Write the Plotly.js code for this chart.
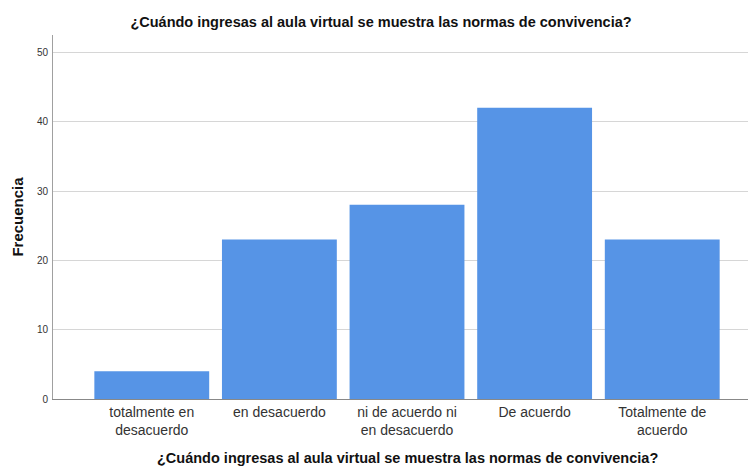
<!DOCTYPE html>
<html>
<head>
<meta charset="utf-8">
<script src="https://cdn.plot.ly/plotly-3.0.1.min.js"></script>
<style>html,body{margin:0;padding:0;background:#fff;}#chart{width:748px;height:468px;}</style>
</head>
<body>
<div id="chart"></div>
<script>
const categories = ["totalmente en<br>desacuerdo", "en desacuerdo", "ni de acuerdo ni<br>en desacuerdo", "De acuerdo", "Totalmente de<br>acuerdo"];
const frecuencia = [4, 23, 28, 42, 23];
const yTicks = [0, 10, 20, 30, 40, 50];
const chartTitle = "¿Cuándo ingresas al aula virtual se muestra las normas de convivencia?";
const yTitle = "Frecuencia";

const font = "Liberation Sans, Arial, sans-serif";

Plotly.newPlot("chart", [{
  type: "bar",
  x: [0, 1, 2, 3, 4],
  y: frecuencia,
  marker: {color: "#5694e6", line: {width: 0}},
  hoverinfo: "none"
}], {
  width: 748, height: 468,
  margin: {l: 53, r: 0, t: 35, b: 69},
  paper_bgcolor: "#fff", plot_bgcolor: "#fff",
  bargap: 0.1,
  showlegend: false,
  font: {family: font, color: "#222"},
  title: {text: chartTitle, font: {family: font, size: 14.5, color: "#111", weight: "bold"},
          x: 381/748, xanchor: "center", xref: "container", y: 1 - 22/468, yref: "container", yanchor: "middle"},
  annotations: [{
    text: chartTitle, showarrow: false,
    xref: "paper", yref: "paper", x: (407 - 53) / 695, y: (399 - 458) / 364,
    xanchor: "center", yanchor: "middle",
    font: {family: font, size: 14.5, color: "#111", weight: "bold"}
  }],
  xaxis: {
    range: [-0.774, 4.672],
    tickmode: "array", tickvals: [0, 1, 2, 3, 4], ticktext: categories,
    tickfont: {family: font, size: 14, color: "#333"},
    showgrid: false, zeroline: false,
    showline: true, linecolor: "#888", linewidth: 1,
    ticks: "", automargin: false
  },
  yaxis: {
    range: [0, 52.5],
    tickmode: "array", tickvals: yTicks,
    tickfont: {family: font, size: 10, color: "#333"},
    showgrid: true, gridcolor: "#d6d6d6", gridwidth: 1,
    zeroline: false,
    showline: true, linecolor: "#a0a0a0", linewidth: 1,
    ticks: "", ticklabelstandoff: 2, automargin: false,
    title: {text: yTitle, font: {family: font, size: 15, color: "#111", weight: "bold"}, standoff: 9}
  }
}, {displayModeBar: false, staticPlot: true});
</script>
</body>
</html>
